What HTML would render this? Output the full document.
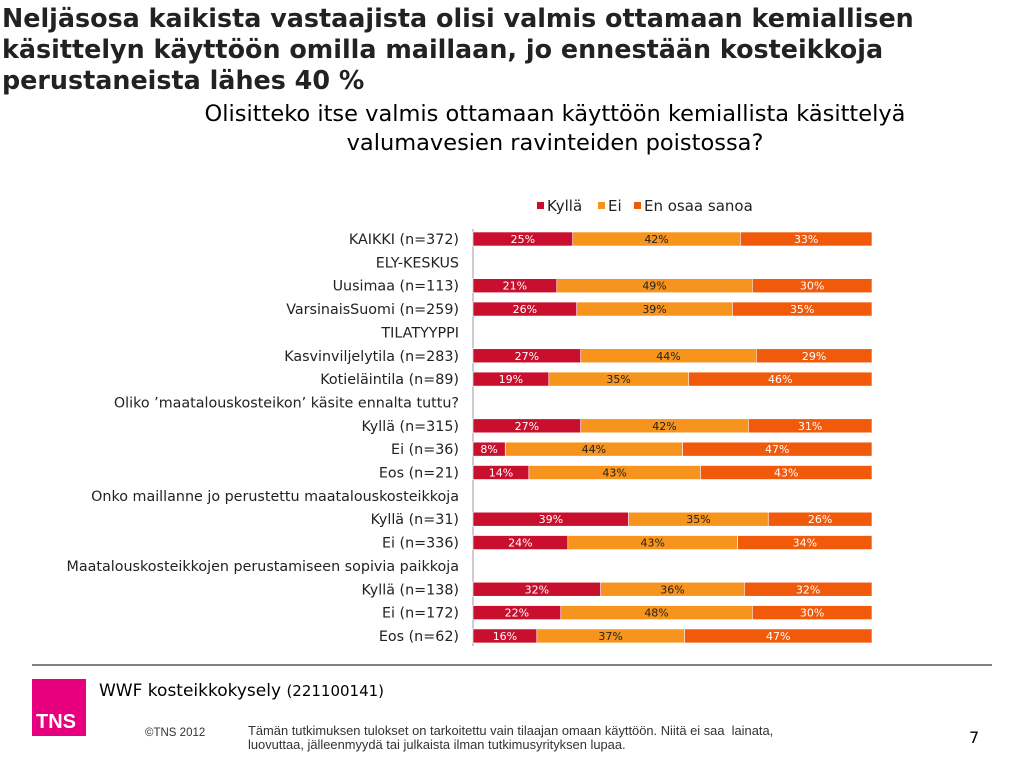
<!DOCTYPE html>
<html><head><meta charset="utf-8">
<style>
body{margin:0;width:1024px;height:768px;background:#fff;font-family:"DejaVu Sans","Liberation Sans",sans-serif;position:relative;overflow:hidden;color:#000}
.abs{position:absolute}
</style></head><body>
<div class="abs" style="left:2px;top:3px;width:960px;font-size:25.4px;font-weight:bold;line-height:31px;color:#222">Neljäsosa kaikista vastaajista olisi valmis ottamaan kemiallisen käsittelyn käyttöön omilla maillaan, jo ennestään kosteikkoja perustaneista lähes 40 %</div>
<div class="abs" style="left:150px;top:100px;width:810px;text-align:center;font-size:22.5px;line-height:29px">Olisitteko itse valmis ottamaan käyttöön kemiallista käsittelyä valumavesien ravinteiden poistossa?</div>
<svg id="chart" class="abs" style="left:0;top:0;font-family:'DejaVu Sans',sans-serif" width="1024" height="660"></svg>
<div class="abs" style="left:32px;top:664px;width:960px;height:2px;background:#808080"></div>
<div class="abs" style="left:32px;top:679px;width:54px;height:57px;background:#e6007e;color:#fff;font-weight:bold;font-size:20px;font-family:'Liberation Sans',sans-serif"><span style="position:absolute;left:4px;bottom:2px">TNS</span></div>
<div class="abs" style="left:99px;top:681px;font-size:17px">WWF kosteikkokysely <span style="font-size:15px">(221100141)</span></div>
<div class="abs" style="left:145px;top:727px;font-size:11.5px;color:#333;font-family:'Liberation Sans',sans-serif">©TNS 2012</div>
<div class="abs" style="left:248px;top:724px;width:620px;font-size:12.9px;line-height:14px;color:#333;font-family:'Liberation Sans',sans-serif">Tämän tutkimuksen tulokset on tarkoitettu vain tilaajan omaan käyttöön. Niitä ei saa&nbsp; lainata,<br>luovuttaa, jälleenmyydä tai julkaista ilman tutkimusyrityksen lupaa.</div>
<div class="abs" style="left:969px;top:728px;font-size:16px">7</div>
<script>
const labels=["KAIKKI (n=372)","ELY-KESKUS","Uusimaa (n=113)","VarsinaisSuomi (n=259)","TILATYYPPI","Kasvinviljelytila (n=283)","Kotieläintila (n=89)","Oliko ’maatalouskosteikon’ käsite ennalta tuttu?","Kyllä (n=315)","Ei (n=36)","Eos (n=21)","Onko maillanne jo perustettu maatalouskosteikkoja","Kyllä (n=31)","Ei (n=336)","Maatalouskosteikkojen perustamiseen sopivia paikkoja","Kyllä (n=138)","Ei (n=172)","Eos (n=62)"];
const kylla=[25,null,21,26,null,27,19,null,27,8,14,null,39,24,null,32,22,16];
const ei=[42,null,49,39,null,44,35,null,42,44,43,null,35,43,null,36,48,37];
const eos=[33,null,30,35,null,29,46,null,31,47,43,null,26,34,null,32,30,47];
const seriesNames=["Kyllä","Ei","En osaa sanoa"];
const colors=["#c8102e","#f7941d","#f05a0a"];
const textColors=["#fff","#222","#fff"];
const svg=document.getElementById('chart');const NS="http://www.w3.org/2000/svg";
const x0=473,W=399,y0=239,step=23.35,bh=14;
function yPos(i){return y0+i*step;}
function xScale(v,tot){return v/tot*W;}
function mk(t,a){const e=document.createElementNS(NS,t);for(const k in a)e.setAttribute(k,a[k]);svg.appendChild(e);return e;}
const ax=mk('line',{x1:x0,x2:x0,y1:229,y2:646,stroke:'#999','stroke-width':1});


const series=[kylla,ei,eos];
labels.forEach((lab,i)=>{
  const t=mk('text',{x:459,y:yPos(i)+5,'text-anchor':'end','font-size':14.3,fill:'#222'});t.textContent=lab;
  
  
  if(kylla[i]==null)return;
  const tot=kylla[i]+ei[i]+eos[i];let x=x0;
  series.forEach((s,j)=>{
    const w=xScale(s[i],tot);
    const r=mk('rect',{x:x,y:yPos(i)-bh/2,width:w,height:bh,fill:colors[j],stroke:'#fff','stroke-width':0.6});
    
    
    const v=mk('text',{x:x+w/2,y:yPos(i)+4,'text-anchor':'middle','font-size':11,fill:textColors[j]});v.textContent=s[i]+'%';
    
    
    x+=w;
  });
});
const legX=[537,598,634];
seriesNames.forEach((n,j)=>{
  const r=mk('rect',{x:legX[j],y:202,width:7,height:7,fill:colors[j]});
  
  
  const t=mk('text',{x:legX[j]+10,y:211,'font-size':15,fill:'#222'});t.textContent=n;
  
  
});
</script>
</body></html>
